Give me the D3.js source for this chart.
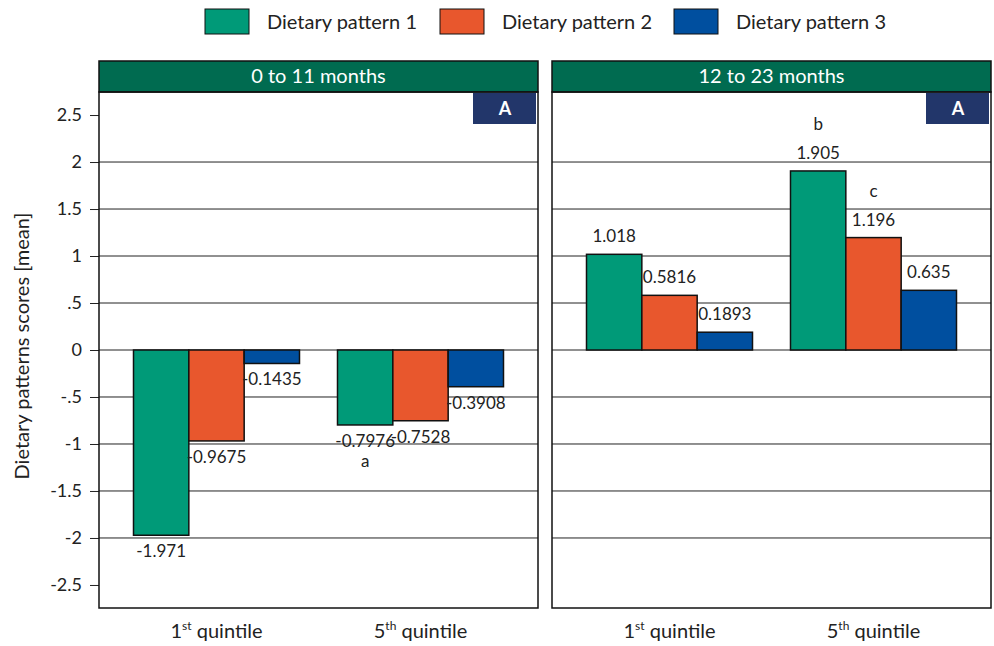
<!DOCTYPE html>
<html>
<head>
<meta charset="utf-8">
<script src="https://cdn.jsdelivr.net/npm/d3@7"></script>
<style>
  body { margin: 0; background: #fff; }
  text { font-family: Lato, "Open Sans", sans-serif; fill: #222; }
</style>
</head>
<body>
<svg id="chart" width="994" height="646"></svg>
<script>
// data
var panels = ["0 to 11 months", "12 to 23 months"]
var quintiles = [["1", "st"], ["5", "th"]]
var series = ["Dietary pattern 1", "Dietary pattern 2", "Dietary pattern 3"]
var colors = ["#009a78", "#e8572d", "#004f9f"]
// values[panel][quintile][series]
var values = [
  [[-1.971, -0.9675, -0.1435], [-0.7976, -0.7528, -0.3908]],
  [[1.018, 0.5816, 0.1893], [1.905, 1.196, 0.635]]
]
var valueLabels = [
  [["-1.971", "-0.9675", "-0.1435"], ["-0.7976", "-0.7528", "-0.3908"]],
  [["1.018", "0.5816", "0.1893"], ["1.905", "1.196", "0.635"]]
]
var letters = [
  [["", "", ""], ["a", "", ""]],
  [["", "", ""], ["b", "c", ""]]
]
var yTicks = [2.5, 2, 1.5, 1, 0.5, 0, -0.5, -1, -1.5, -2, -2.5]
var yTickLabels = ["2.5", "2", "1.5", "1", ".5", "0", "-.5", "-1", "-1.5", "-2", "-2.5"]
var gridTicks = [2, 1.5, 1, 0.5, 0, -0.5, -1, -1.5, -2]

var dims = {
  width: 994, height: 646,
  panelTop: 92, panelBottom: 608,
  stripH: 31,
  panelW: 439,
  panelX: [99, 552]
}

var svg = d3.select("#chart")

var y = d3.scaleLinear()
  .domain([-2.745, 2.745])
  .range([dims.panelBottom, dims.panelTop])

var x = d3.scalePoint()
  .domain([0, 1])
  .range([0, dims.panelW])
  .padding(0.576)

var xSub = d3.scaleBand()
  .domain([0, 1, 2])
  .range([-83, 83])

// legend
var legend = svg.append("g")
var legX = [205, 440, 674]
series.forEach(function(s, i) {
  legend.append("rect")
    .attr("x", legX[i]).attr("y", 9)
    .attr("width", 44).attr("height", 25)
    .attr("fill", colors[i])
    .attr("stroke", "#111").attr("stroke-width", 1)
  legend.append("text")
    .attr("x", legX[i] + 62).attr("y", 29)
    .style("font-size", "20px")
    .text(s)
})

// y axis
var yAxis = svg.append("g")
  .attr("transform", "translate(" + dims.panelX[0] + ",0)")
  .call(d3.axisLeft(y).tickValues(yTicks).tickSize(9).tickPadding(8)
    .tickFormat(function(d, i) { return yTickLabels[i] }))
yAxis.select(".domain").remove()
yAxis.selectAll("line").attr("stroke", "#222")
yAxis.selectAll("text").style("font-size", "18px").style("font-family", "Lato, sans-serif").attr("fill", "#222")

svg.append("text")
  .attr("transform", "translate(29," + ((dims.panelTop + dims.panelBottom) / 2 - 4) + ") rotate(-90)")
  .attr("text-anchor", "middle")
  .style("font-size", "20px")
  .text("Dietary patterns scores [mean]")

panels.forEach(function(p, pi) {
  var g = svg.append("g").attr("transform", "translate(" + dims.panelX[pi] + ",0)")

  // strip
  g.append("rect")
    .attr("x", 0).attr("y", dims.panelTop - dims.stripH)
    .attr("width", dims.panelW).attr("height", dims.stripH)
    .attr("fill", "#006b50").attr("stroke", "#111").attr("stroke-width", 1.5)
  g.append("text")
    .attr("x", dims.panelW / 2).attr("y", dims.panelTop - 9)
    .attr("text-anchor", "middle")
    .style("font-size", "20px").style("fill", "#fff")
    .text(p)

  // gridlines
  g.selectAll(".grid").data(gridTicks).enter().append("line")
    .attr("x1", 0).attr("x2", dims.panelW)
    .attr("y1", function(d) { return y(d) }).attr("y2", function(d) { return y(d) })
    .attr("stroke", "#222").attr("stroke-width", 1)

  // "A" tag
  g.append("rect")
    .attr("x", dims.panelW - 65).attr("y", dims.panelTop + 1)
    .attr("width", 63).attr("height", 31)
    .attr("fill", "#22366a")
  g.append("text")
    .attr("x", dims.panelW - 33).attr("y", dims.panelTop + 23)
    .attr("text-anchor", "middle")
    .style("font-size", "18px").style("font-weight", "bold").style("fill", "#fff")
    .text("A")

  // bars
  values[pi].forEach(function(grp, qi) {
    var gg = g.append("g").attr("transform", "translate(" + x(qi) + ",0)")
    grp.forEach(function(v, si) {
      var top = y(Math.max(0, v)), bot = y(Math.min(0, v))
      gg.append("rect")
        .attr("x", xSub(si)).attr("y", top)
        .attr("width", xSub.bandwidth()).attr("height", bot - top)
        .attr("fill", colors[si]).attr("stroke", "#111").attr("stroke-width", 1.5)
      var cx = xSub(si) + xSub.bandwidth() / 2
      var ly = v >= 0 ? y(v) - 12 : y(v) + 22
      gg.append("text")
        .attr("x", cx).attr("y", ly)
        .attr("text-anchor", "middle")
        .style("font-size", "17px")
        .text(valueLabels[pi][qi][si])
      var l = letters[pi][qi][si]
      if (l) {
        gg.append("text")
          .attr("x", cx).attr("y", v >= 0 ? ly - 29 : ly + 20)
          .attr("text-anchor", "middle")
          .style("font-size", "17px")
          .text(l)
      }
    })
  })

  // panel border
  g.append("rect")
    .attr("x", 0).attr("y", dims.panelTop)
    .attr("width", dims.panelW).attr("height", dims.panelBottom - dims.panelTop)
    .attr("fill", "none").attr("stroke", "#111").attr("stroke-width", 1.5)

  // x labels
  quintiles.forEach(function(q, qi) {
    var t = g.append("text")
      .attr("x", x(qi)).attr("y", 638)
      .attr("text-anchor", "middle")
      .style("font-size", "20px")
    t.append("tspan").text(q[0])
    t.append("tspan").attr("dy", -8).style("font-size", "12px").text(q[1])
    t.append("tspan").attr("dy", 8).text(" quintile")
  })
})
</script>
</body>
</html>
